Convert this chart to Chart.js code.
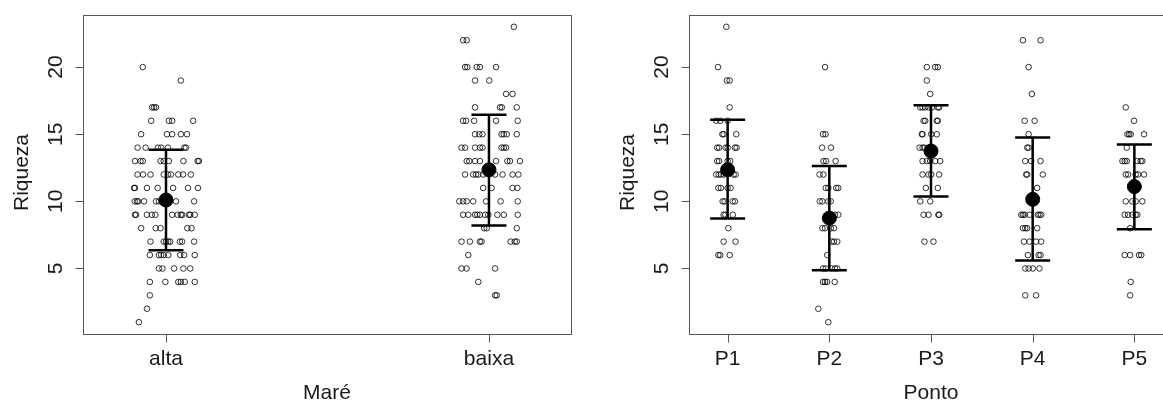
<!DOCTYPE html>
<html>
<head>
<meta charset="utf-8">
<script src="https://cdn.jsdelivr.net/npm/chart.js@4"></script>
<style>
  html, body { margin: 0; padding: 0; background: #fff; overflow: hidden; }
  #wrap { position: relative; width: 1163px; height: 401px; overflow: hidden; }
  canvas { position: absolute; top: 0; }
  #mareChart { left: 0; }
  #pontoChart { left: 581px; }
</style>
</head>
<body>
<div id="wrap">
  <canvas id="mareChart" width="581" height="401"></canvas>
  <canvas id="pontoChart" width="600" height="401"></canvas>
</div>
<script>
const mareLabels = ["alta", "baixa"];
const pontoLabels = ["P1", "P2", "P3", "P4", "P5"];
const yTicks = [5, 10, 15, 20];

// riqueza por maré (jitter = desvio horizontal)
const altaRiqueza = [
  20, 19, 17, 17, 17, 16, 16, 16, 16,
  15, 15, 15, 15, 15,
  14, 14, 14, 14, 14, 14, 14,
  13, 13, 13, 13, 13, 13, 13, 13, 13,
  12, 12, 12, 12, 12, 12, 12, 12, 12,
  11, 11, 11, 11, 11, 11, 11,
  10, 10, 10, 10, 10, 10, 10, 10, 10,
  9, 9, 9, 9, 9, 9, 9, 9, 9, 9, 9, 9,
  8, 8, 8, 8, 8,
  7, 7, 7, 7, 7, 7, 7, 7,
  6, 6, 6, 6, 6, 6, 6, 6,
  5, 5, 5, 5, 5,
  4, 4, 4, 4, 4, 4,
  3, 2, 1
];
const altaJitter = [
  -0.072, 0.046, -0.043, -0.037, -0.031, -0.046, 0.009, 0.019, 0.084,
  -0.077, 0.003, 0.019, 0.046, 0.065,
  -0.088, -0.063, -0.025, -0.015, 0.006, 0.057, 0.062,
  -0.096, -0.079, -0.072, -0.017, -0.007, 0.009, 0.054, 0.098, 0.102,
  -0.088, -0.071, -0.048, -0.007, 0.006, 0.015, 0.038, 0.053, 0.077,
  -0.099, -0.096, -0.059, -0.026, 0.022, 0.068, 0.099,
  -0.097, -0.090, -0.086, -0.068, -0.031, -0.022, -0.012, 0.031, 0.087,
  -0.096, -0.093, -0.059, -0.044, -0.033, 0.019, 0.036, 0.046, 0.050, 0.071, 0.075, 0.089,
  -0.077, -0.032, -0.017, 0.066, 0.079,
  -0.048, -0.007, 0.000, 0.007, 0.013, 0.043, 0.050, 0.087,
  -0.050, -0.022, -0.015, -0.007, 0.007, 0.044, 0.056, 0.089,
  -0.022, -0.011, 0.025, 0.054, 0.075,
  -0.050, -0.002, 0.038, 0.046, 0.058, 0.089,
  -0.050, -0.059, -0.084
];
const baixaRiqueza = [
  23, 22, 22,
  20, 20, 20, 20, 20,
  19, 19, 18, 18,
  17, 17, 17, 17,
  16, 16, 16, 16, 16,
  15, 15, 15, 15, 15, 15, 15,
  14, 14, 14, 14, 14, 14, 14, 14,
  13, 13, 13, 13, 13, 13, 13, 13,
  12, 12, 12, 12, 12, 12, 12, 12, 12,
  11, 11, 11, 11,
  10, 10, 10, 10, 10, 10, 10,
  9, 9, 9, 9, 9, 9, 9, 9, 9, 9,
  8, 8, 8,
  7, 7, 7, 7, 7, 7, 7,
  6, 5, 5, 5, 4, 3, 3
];
const baixaJitter = [
  0.077, -0.080, -0.069,
  -0.074, -0.067, -0.038, -0.028, 0.022,
  -0.043, 0.001, 0.053, 0.073,
  -0.043, 0.034, 0.040, 0.086,
  -0.080, -0.071, -0.046, 0.022, 0.089,
  -0.043, -0.030, -0.020, 0.039, 0.046, 0.055, 0.086,
  -0.085, -0.074, -0.043, -0.028, -0.020, 0.039, 0.046, 0.053,
  -0.069, -0.061, -0.043, -0.028, 0.022, 0.057, 0.065, 0.096,
  -0.074, -0.049, -0.040, -0.033, -0.018, 0.019, 0.042, 0.073, 0.091,
  -0.018, 0.008, 0.073, 0.088,
  -0.092, -0.080, -0.069, -0.049, -0.009, 0.036, 0.089,
  -0.080, -0.064, -0.043, -0.036, -0.028, -0.012, -0.002, 0.026, 0.046, 0.089,
  -0.015, -0.007, 0.086,
  -0.085, -0.059, -0.028, -0.023, 0.067, 0.080, 0.086,
  -0.064, -0.085, -0.069, 0.019, -0.033, 0.019, 0.024
];
const mareMean = [10.1, 12.35];
const mareLow = [6.35, 8.2];
const mareHigh = [13.85, 16.45];

// riqueza por ponto
const p1Riqueza = [23, 20, 19, 19, 17, 16, 16, 16, 15, 15, 15, 14, 14, 14, 14, 14, 14,
  13, 13, 13, 13, 12, 12, 12, 12, 12, 12, 11, 11, 11, 11, 10, 10, 10, 10, 9, 9, 9, 8, 7, 7, 6, 6, 6];
const p1Jitter = [-0.013, -0.095, -0.007, 0.020, 0.020, -0.112, -0.073, 0.000, -0.052, -0.039, 0.085,
  -0.103, -0.084, -0.020, 0.000, 0.072, 0.088, -0.103, -0.084, 0.000, 0.025,
  -0.113, -0.088, -0.066, -0.039, 0.059, 0.078, -0.091, -0.066, 0.000, 0.029,
  -0.049, -0.029, 0.049, 0.072, -0.039, -0.022, 0.051, 0.007, -0.039, 0.078, -0.091, -0.073, 0.020];
const p2Riqueza = [20, 15, 15, 14, 14, 13, 13, 13, 12, 12, 11, 11, 11, 11, 10, 10, 10, 10, 9, 9,
  8, 8, 8, 8, 7, 7, 7, 6, 5, 5, 5, 5, 5, 4, 4, 4, 4, 2, 1];
const p2Jitter = [-0.042, -0.062, -0.037, -0.071, 0.017, -0.057, -0.032, 0.062, -0.096, -0.059,
  -0.035, -0.010, 0.068, 0.088, -0.094, -0.068, -0.010, 0.014, 0.056, 0.088,
  -0.068, -0.042, 0.014, 0.046, 0.023, 0.046, 0.078, -0.020,
  -0.062, -0.035, 0.023, 0.056, 0.078, -0.062, -0.042, -0.022, 0.053, -0.108, -0.010];
const p3Riqueza = [20, 20, 20, 19, 18, 17, 17, 17, 17, 17, 17, 17, 16, 16, 16, 16, 15, 15, 15, 15,
  14, 14, 14, 13, 13, 13, 13, 13, 12, 12, 12, 12, 11, 11, 10, 10, 9, 9, 9, 9, 7, 7];
const p3Jitter = [-0.041, 0.041, 0.067, -0.041, -0.008, -0.106, -0.083, -0.057, -0.024, 0.008, 0.067, 0.080,
  -0.073, -0.057, 0.057, 0.067, -0.090, -0.083, 0.002, 0.057, -0.112, -0.083, -0.064,
  -0.083, -0.041, -0.008, 0.041, 0.090, -0.083, -0.024, 0.002, 0.080, -0.051, 0.067,
  -0.106, -0.008, -0.073, -0.024, 0.073, 0.080, -0.064, 0.024];
const p4Riqueza = [22, 22, 20, 18, 16, 16, 15, 14, 14, 13, 13, 13, 12, 12, 12, 11,
  9, 9, 9, 9, 9, 9, 9, 8, 8, 8, 8, 7, 7, 7, 7, 6, 6, 6, 5, 5, 5, 5, 3, 3];
const p4Jitter = [-0.096, 0.077, -0.040, -0.008, -0.079, 0.019, -0.040, -0.054, -0.040,
  -0.073, -0.015, 0.077, -0.064, -0.054, 0.100, 0.044,
  -0.112, -0.096, -0.079, -0.030, 0.051, 0.067, 0.083, -0.096, -0.073, -0.054, 0.044,
  -0.086, -0.030, 0.034, 0.083, -0.047, 0.058, 0.077, -0.073, -0.040, 0.002, 0.067, -0.073, 0.034];
const p5Riqueza = [17, 16, 15, 15, 15, 15, 14, 13, 13, 13, 13, 13, 13, 12, 12, 12, 12, 12,
  10, 10, 10, 10, 9, 9, 9, 9, 9, 8, 6, 6, 6, 6, 4, 3];
const p5Jitter = [-0.085, -0.003, -0.068, -0.052, -0.036, 0.095, -0.075,
  -0.117, -0.095, -0.075, 0.029, 0.062, 0.078, -0.085, -0.062, 0.013, 0.036, 0.095,
  -0.085, -0.020, 0.013, 0.078, -0.095, -0.062, -0.020, 0.013, 0.029, -0.042,
  -0.095, -0.042, 0.046, 0.068, -0.036, -0.042];
const pontoMean = [12.35, 8.75, 13.75, 10.15, 11.1];
const pontoLow = [8.73, 4.87, 10.37, 5.6, 7.93];
const pontoHigh = [16.07, 12.63, 17.16, 14.75, 14.23];

const FONT = '21px "Liberation Sans", Arial, sans-serif';

function toPoints(values, jitter, pos) {
  return values.map((v, i) => ({ x: pos + jitter[i], y: v }));
}

// desenha eixos no estilo do R base, caixa e barras de erro
const rStyle = {
  id: "rStyle",
  afterDatasetsDraw(chart) {
    const { ctx, scales: { x, y } } = chart;
    const o = chart.options.plugins.rStyle;
    ctx.save();
    ctx.strokeStyle = "#000";
    ctx.lineWidth = 2.5;
    o.low.forEach((lo, i) => {
      const px = x.getPixelForValue(i + 1);
      const top = y.getPixelForValue(o.high[i]);
      const bot = y.getPixelForValue(lo);
      ctx.beginPath();
      ctx.moveTo(px, top); ctx.lineTo(px, bot);
      ctx.moveTo(px - 17.5, top); ctx.lineTo(px + 17.5, top);
      ctx.moveTo(px - 17.5, bot); ctx.lineTo(px + 17.5, bot);
      ctx.stroke();
    });
    ctx.restore();
  },
  afterDraw(chart) {
    const { ctx, chartArea: a, scales: { x, y } } = chart;
    const o = chart.options.plugins.rStyle;
    const L = Math.round(a.left) + 0.5, R = Math.round(a.right) + 0.5;
    const T = Math.round(a.top) + 0.5, B = Math.round(a.bottom) + 0.5;
    ctx.save();
    ctx.strokeStyle = "#555";
    ctx.lineWidth = 1;
    ctx.strokeRect(L, T, R - L, B - T);
    ctx.beginPath();
    o.labels.forEach((lab, i) => {
      const px = Math.round(x.getPixelForValue(i + 1)) + 0.5;
      ctx.moveTo(px, B); ctx.lineTo(px, B + 8);
    });
    yTicks.forEach(t => {
      const py = Math.round(y.getPixelForValue(t)) + 0.5;
      ctx.moveTo(L, py); ctx.lineTo(L - 8, py);
    });
    ctx.stroke();

    ctx.fillStyle = "#1a1a1a";
    ctx.font = FONT;
    ctx.textAlign = "center";
    ctx.textBaseline = "alphabetic";
    o.labels.forEach((lab, i) => {
      ctx.fillText(lab, x.getPixelForValue(i + 1), a.bottom + 31);
    });
    ctx.fillText(o.xTitle, (a.left + a.right) / 2, a.bottom + 65);

    ctx.textBaseline = "middle";
    yTicks.forEach(t => {
      ctx.save();
      ctx.translate(a.left - 27, y.getPixelForValue(t));
      ctx.rotate(-Math.PI / 2);
      ctx.fillText(String(t), 0, 0);
      ctx.restore();
    });
    ctx.save();
    ctx.translate(a.left - 61, (a.top + a.bottom) / 2 - 2);
    ctx.rotate(-Math.PI / 2);
    ctx.fillText("Riqueza", 0, 0);
    ctx.restore();
    ctx.restore();
  }
};

function makePanel(id, labels, groups, means, low, high, xmin, xmax, padding, xTitle) {
  const pts = [];
  groups.forEach((g, i) => pts.push(...toPoints(g[0], g[1], i + 1)));
  new Chart(document.getElementById(id), {
    type: "scatter",
    data: {
      datasets: [
        {
          data: means.map((m, i) => ({ x: i + 1, y: m })),
          pointRadius: 7,
          pointBackgroundColor: "#000",
          pointBorderColor: "#000",
          pointBorderWidth: 1,
          order: 0
        },
        {
          data: pts,
          pointRadius: 2.8,
          pointBackgroundColor: "rgba(0,0,0,0)",
          pointBorderColor: "rgba(0,0,0,0.8)",
          pointBorderWidth: 1,
          order: 1
        }
      ]
    },
    plugins: [rStyle],
    options: {
      responsive: false,
      animation: false,
      devicePixelRatio: 1,
      layout: { padding: padding },
      scales: {
        x: { type: "linear", min: xmin, max: xmax, display: false },
        y: { type: "linear", min: 0.12, max: 23.88, display: false }
      },
      plugins: {
        legend: { display: false },
        tooltip: { enabled: false },
        rStyle: { labels: labels, low: low, high: high, xTitle: xTitle }
      }
    }
  });
}

makePanel("mareChart", mareLabels,
  [[altaRiqueza, altaJitter], [baixaRiqueza, baixaJitter]],
  mareMean, mareLow, mareHigh, 0.743, 2.254,
  { left: 83, right: 10, top: 15, bottom: 67 }, "Maré");

makePanel("pontoChart", pontoLabels,
  [[p1Riqueza, p1Jitter], [p2Riqueza, p2Jitter], [p3Riqueza, p3Jitter], [p4Riqueza, p4Jitter], [p5Riqueza, p5Jitter]],
  pontoMean, pontoLow, pontoHigh, 0.62, 5.38,
  { left: 108, right: 5, top: 15, bottom: 67 }, "Ponto");
</script>
</body>
</html>
